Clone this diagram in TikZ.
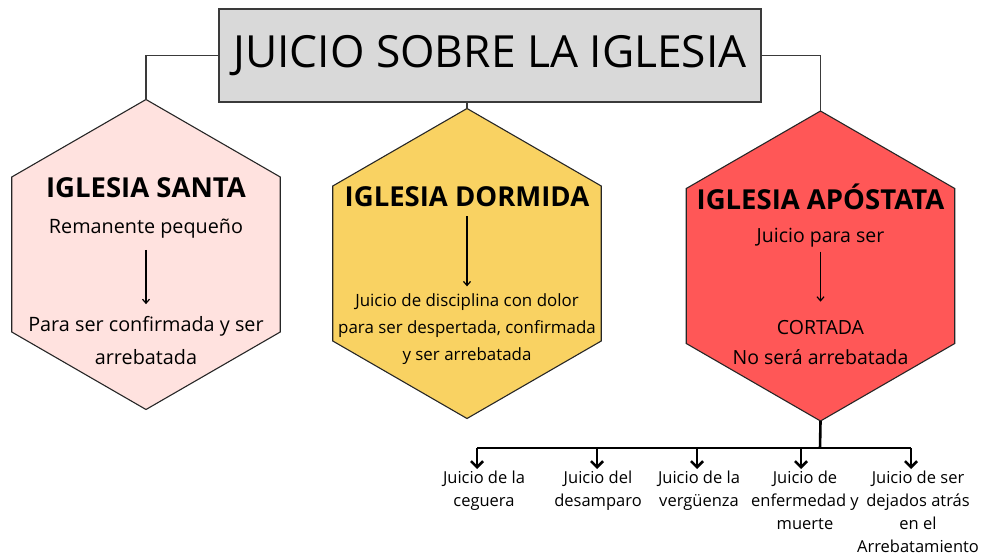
\documentclass[tikz,border=0pt]{standalone}
\usepackage{fontspec}
\setmainfont{Open Sans}
\usetikzlibrary{shapes.geometric,arrows.meta,positioning}

\definecolor{boxgray}{HTML}{D9D9D9}
\definecolor{edgegray}{HTML}{3A3A3A}
\definecolor{santa}{HTML}{FFE2DF}
\definecolor{dormida}{HTML}{F9D262}
\definecolor{apostata}{HTML}{FF5757}

\tikzset{
  hexa/.style={regular polygon, regular polygon sides=6, shape border rotate=30,
    minimum size=310pt, inner sep=0pt, outer sep=0pt, draw=black!85, line width=1.1pt},
  hextitle/.style={font=\bfseries\fontsize{27.5}{32}\selectfont, inner sep=5pt},
  hextext/.style={align=center, inner sep=7pt},
  link/.style={draw=edgegray, line width=1.3pt},
  thinarr/.style={line width=1.2pt, -{Straight Barb[length=4pt,width=7pt]}},
  bararr/.style={line width=2.6pt, -{Straight Barb[length=6pt,width=12pt,line width=2.6pt]}},
  leaf/.style={align=center, anchor=north, inner sep=2pt, font=\fontsize{16.5}{23}\selectfont}
}

\begin{document}
\begin{tikzpicture}[x=1pt,y=-1pt]
\useasboundingbox (0,0) rectangle (981,556);
\node[draw=edgegray, line width=1.4pt, fill=boxgray, minimum width=542pt, minimum height=93pt, inner sep=0pt,
  font=\fontsize{44.3}{48}\selectfont] (title) at (490,55.5) {JUICIO SOBRE LA IGLESIA};

\node[hexa, fill=santa] (hexA) at (146,254.5) {};
\node[hexa, fill=dormida] (hexB) at (467,263.5) {};
\node[hexa, fill=apostata] (hexC) at (820.5,266) {};

\draw[link] (title.west) -| (hexA.north);
\draw[link] (title.south -| hexB.north) -- (hexB.north);
\draw[link] (title.east) -| (hexC.north);

\node[hextitle] (tA) at (146,188) {IGLESIA SANTA};
\node[hextext, font=\fontsize{19.8}{33}\selectfont] (rA) at (146,229) {Remanente pequeño};
\node[hextext, font=\fontsize{19.8}{33}\selectfont] (cA) at (146,340.5) {Para ser confirmada y ser\\arrebatada};
\draw[thinarr, shorten <=4pt, shorten >=5pt] (rA.south) -- (cA.north);

\node[hextitle] (tB) at (467,197) {IGLESIA DORMIDA};
\node[hextext, font=\fontsize{16.9}{27}\selectfont] (dB) at (467,329) {Juicio de disciplina con dolor\\para ser despertada, confirmada\\y ser arrebatada};
\draw[thinarr, shorten <=4pt] (tB.south) -- (dB.north);

\node[hextitle] (tC) at (820.5,197) {IGLESIA APÓSTATA};
\node[hextext, font=\fontsize{19.5}{30}\selectfont] (jC) at (820.5,238) {Juicio para ser};
\node[hextext, font=\fontsize{19.5}{30}\selectfont] (kC) at (820.5,343) {CORTADA\\No será arrebatada};
\draw[thinarr, shorten <=-3pt, shorten >=12pt] (jC.south) -- (kC.north);

\coordinate (hub) at (820,448);
\coordinate (a1) at (477,448);
\coordinate (a2) at (597,448);
\coordinate (a3) at (697,448);
\coordinate (a4) at (801,448);
\coordinate (a5) at (911,448);
\draw[line width=2.6pt] (hexC.south) -- (hub);
\draw[line width=2.6pt] (a1) -- (a5);

\node[leaf] (j1) at (484,469) {Juicio de la\\ceguera};
\node[leaf] (j2) at (598,469) {Juicio del\\desamparo};
\node[leaf] (j3) at (699,469) {Juicio de la\\vergüenza};
\node[leaf] (j4) at (805,469) {Juicio de\\enfermedad y\\muerte};
\node[leaf] (j5) at (918,469) {Juicio de ser\\dejados atrás\\en el\\Arrebatamiento};

\draw[bararr] (a1) -- (a1 |- j1.north);
\draw[bararr] (a2) -- (a2 |- j2.north);
\draw[bararr] (a3) -- (a3 |- j3.north);
\draw[bararr] (a4) -- (a4 |- j4.north);
\draw[bararr] (a5) -- (a5 |- j5.north);
\end{tikzpicture}
\end{document}
